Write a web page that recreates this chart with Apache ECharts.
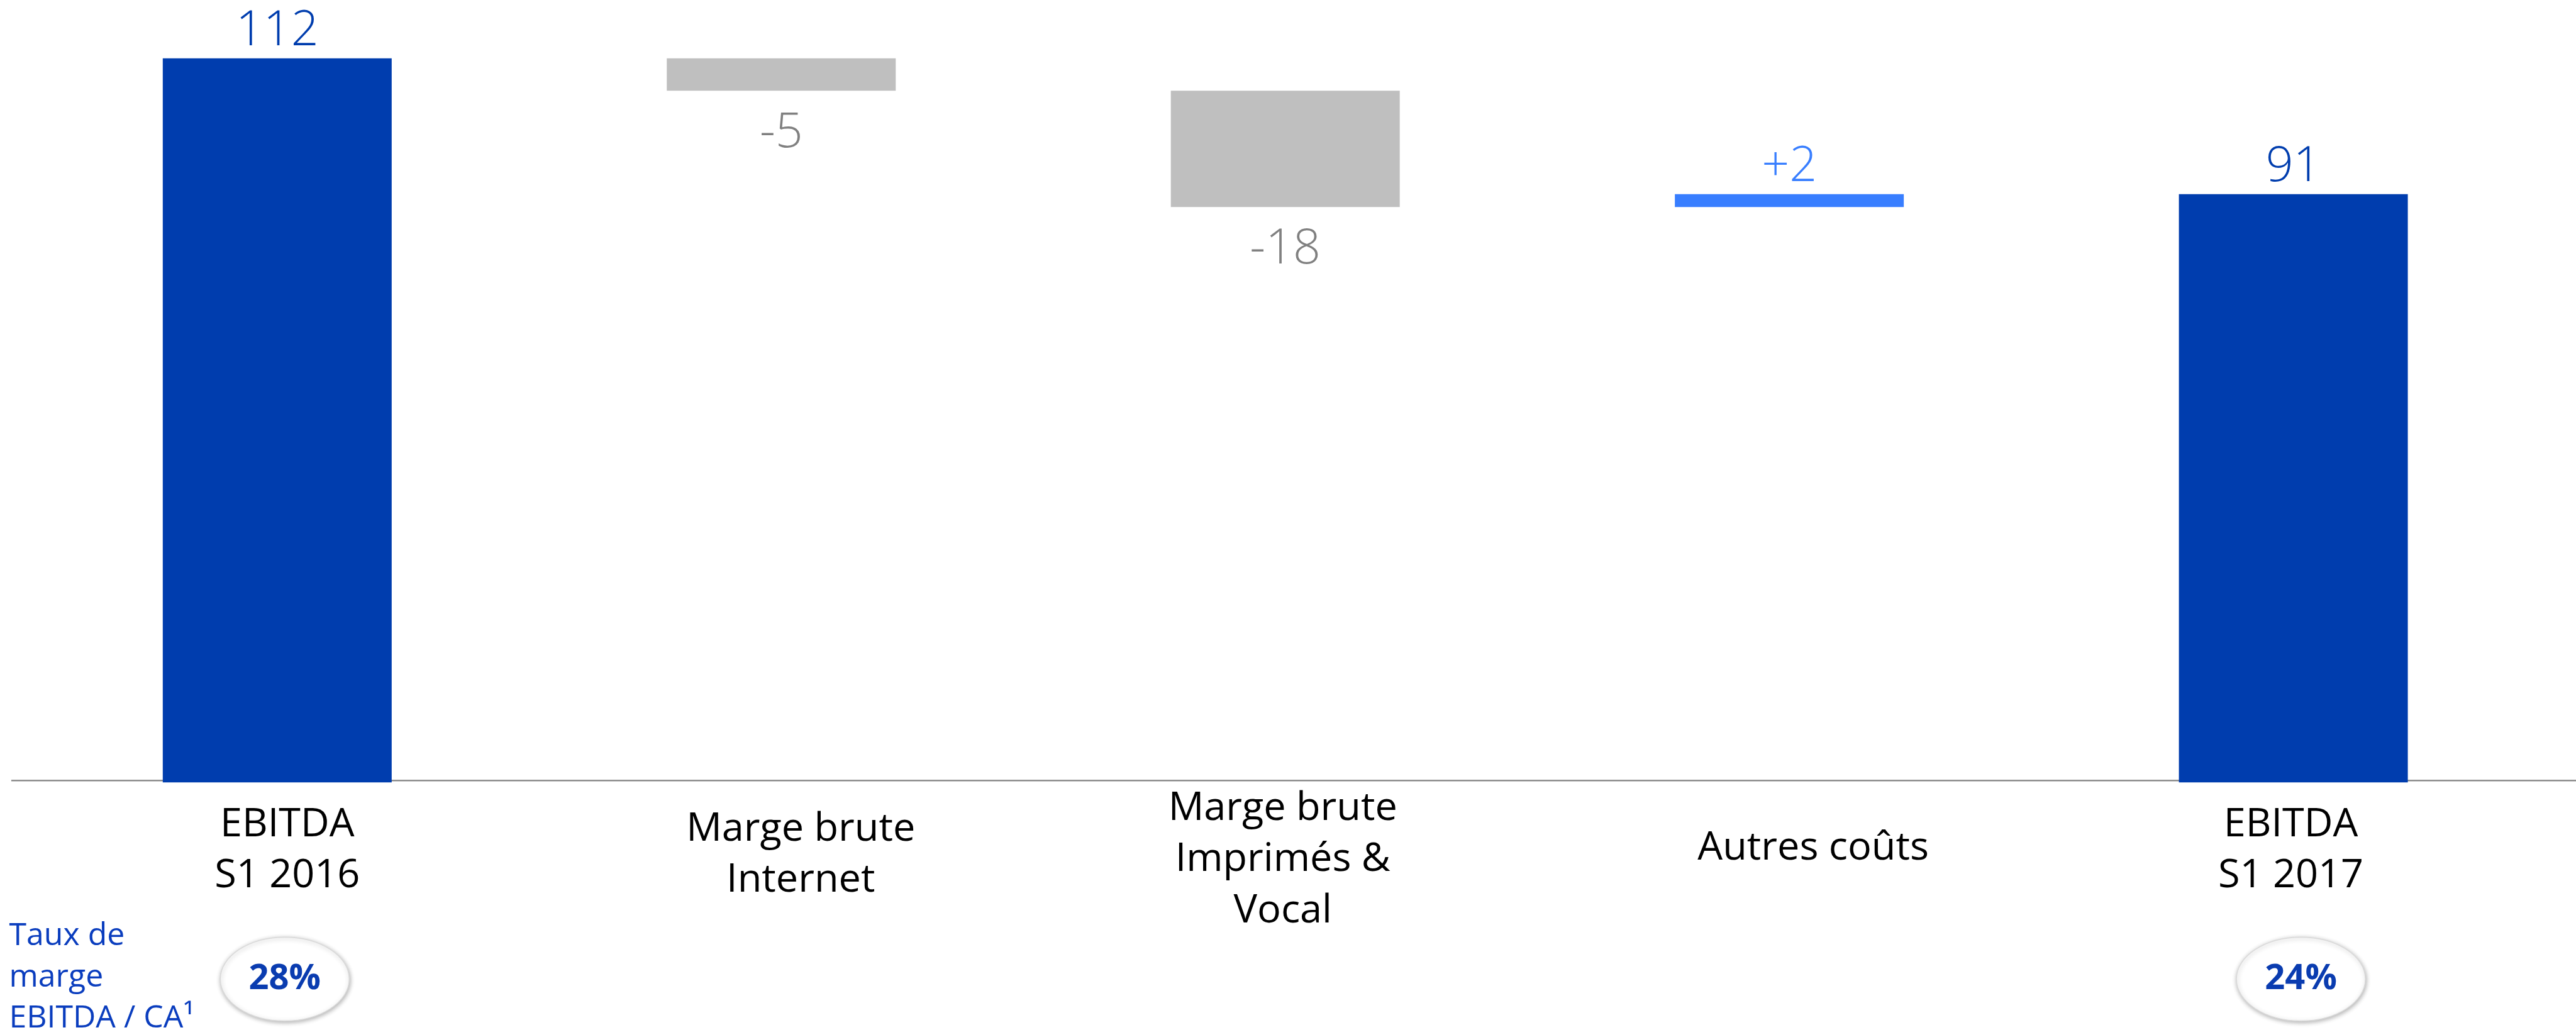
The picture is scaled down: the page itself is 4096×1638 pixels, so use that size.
<!DOCTYPE html>
<html>
<head>
<meta charset="utf-8">
<script src="https://cdn.jsdelivr.net/npm/echarts@6/dist/echarts.min.js"></script>
<style>
  html, body { margin: 0; padding: 0; background: #ffffff; }
  #chart { width: 4096px; height: 1638px; }
</style>
</head>
<body>
<div id="chart"></div>
<script>
// EBITDA bridge, S1 2016 -> S1 2017 (M€)
const categories = ['EBITDA\nS1 2016', 'Marge brute\nInternet', 'Marge brute\nImprimés &\nVocal', 'Autres coûts', 'EBITDA\nS1 2017'];
const values = [112, -5, -18, 2, 91];
const valueLabels = ['112', '-5', '-18', '+2', '91'];
const isTotal = [true, false, false, false, true];
const marginRates = ['28%', '', '', '', '24%'];
const marginCaption = 'Taux de\nmarge\nEBITDA / CA¹';

// palette
const DARK = '#003DAE';
const LIGHT = '#387EFF';
const GREY = '#BFBFBF';
const GREY_TEXT = '#808080';
const CAPTION_BLUE = '#0A3DBE';
const FONT = '"Open Sans", "Noto Sans", sans-serif';

// category captions: line height and small per-caption nudges (px)
const CAPTION_LINE = 81.7;
const captionNudge = [[16, -4], [31, 3], [-4, 11], [38, -7], [-4, -4]];

// floating segments of the waterfall
const base = [];
const span = [];
let running = 0;
values.forEach((v, i) => {
  if (isTotal[i]) {
    base.push(0); span.push(v); running = v;
  } else if (v < 0) {
    base.push(running + v); span.push(-v); running += v;
  } else {
    base.push(running); span.push(v); running += v;
  }
});

const barColor = (i) => isTotal[i] ? DARK : (values[i] < 0 ? GREY : LIGHT);
const labelColor = (i) => isTotal[i] ? DARK : (values[i] < 0 ? GREY_TEXT : LIGHT);

const chart = echarts.init(document.getElementById('chart'), null, { renderer: 'canvas' });

// captions are top-anchored; pad each so that every block is centred on the same line
const axisData = categories.map((c, i) => {
  const dx = captionNudge[i][0], dy = captionNudge[i][1];
  const lines = c.split('\n').length;
  const padTop = (3 - lines) * CAPTION_LINE / 2 + dy + 9.75;
  return {
    value: c,
    textStyle: {
      padding: [padTop, Math.max(0, -2 * dx), 0, Math.max(0, 2 * dx)]
    }
  };
});

chart.setOption({
  animation: false,
  backgroundColor: '#ffffff',
  grid: { left: 40.1, right: 48.7, top: 10.6, bottom: 393.8, containLabel: false, outerBoundsMode: 'none' },
  xAxis: {
    type: 'category',
    data: axisData,
    axisLine: { show: false },
    axisTick: { show: false },
    splitLine: { show: false },
    axisLabel: {
      interval: 0,
      margin: -20,
      verticalAlign: 'top',
      align: 'center',
      color: '#000000',
      fontFamily: FONT,
      fontSize: 63,
      lineHeight: CAPTION_LINE
    }
  },
  yAxis: {
    type: 'value',
    min: 0,
    max: 120,
    show: false,
    splitLine: { show: false }
  },
  series: [
    {
      name: 'base',
      type: 'bar',
      stack: 'bridge',
      barWidth: 364,
      silent: true,
      itemStyle: { color: 'rgba(0,0,0,0)' },
      data: base
    },
    {
      name: 'EBITDA',
      type: 'bar',
      stack: 'bridge',
      barWidth: 364,
      z: 3,
      data: span.map((s, i) => ({
        value: s,
        itemStyle: { color: barColor(i) },
        label: {
          show: true,
          position: values[i] < 0 ? 'bottom' : 'top',
          distance: values[i] < 0 ? 29.5 : 4,
          formatter: valueLabels[i],
          color: labelColor(i),
          fontFamily: FONT,
          fontWeight: 300,
          fontSize: 77,
          lineHeight: 77
        }
      }))
    }
  ]
});

// axis rule, margin bubbles and caption placed from the chart's own scales
const zeroY = chart.convertToPixel({ yAxisIndex: 0 }, 0);
const graphics = [
  {
    type: 'line',
    z: 0,
    shape: { x1: 17.9, y1: zeroY - 3, x2: 4096, y2: zeroY - 3 },
    style: { stroke: '#8C8C8C', lineWidth: 2.5 }
  },
  {
    type: 'text',
    left: 14.5,
    top: 1456,
    style: {
      text: marginCaption,
      font: '400 50px ' + FONT,
      lineHeight: 65.5,
      fill: CAPTION_BLUE
    }
  }
];
marginRates.forEach((rate, i) => {
  if (!rate) return;
  const cx = chart.convertToPixel({ xAxisIndex: 0 }, categories[i]) + 12;
  const cy = 1557;
  graphics.push({
    type: 'ellipse',
    z: 5,
    shape: { cx: cx, cy: cy, rx: 102.5, ry: 66.5 },
    style: {
      fill: '#ffffff',
      stroke: '#DADADA',
      lineWidth: 1.5,
      shadowBlur: 7,
      shadowColor: 'rgba(0,0,0,0.3)',
      shadowOffsetX: 1,
      shadowOffsetY: 2
    }
  });
  graphics.push({
    type: 'text',
    z: 6,
    style: {
      text: rate,
      x: cx,
      y: cy,
      align: 'center',
      verticalAlign: 'middle',
      font: '700 56px ' + FONT,
      fill: '#0A3CB0'
    }
  });
});
chart.setOption({ graphic: graphics });
</script>
</body>
</html>
